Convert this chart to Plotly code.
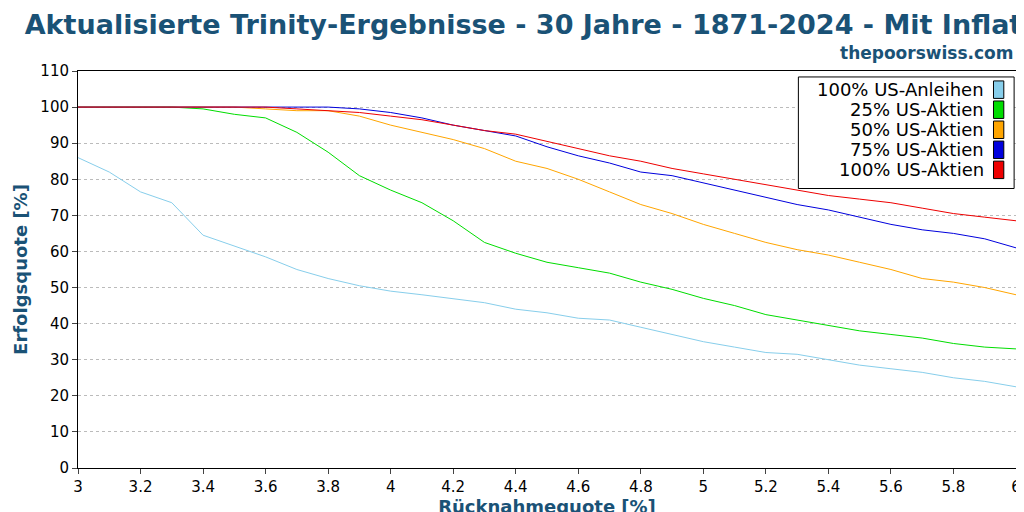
import plotly.graph_objects as go

rates = [round(3 + 0.1 * i, 1) for i in range(31)]
bonds = [86, 82, 76.5, 73.5, 64.5, 61.5, 58.5, 55, 52.5, 50.5, 49, 48, 47, 45.8, 44, 43, 41.5, 41, 39, 37,
         35, 33.5, 32, 31.5, 30, 28.5, 27.5, 26.5, 25, 24, 22.5]
stocks25 = [100, 100, 100, 100, 99.5, 98, 97, 93, 87.5, 81, 77, 73.5, 68.5, 62.5, 59.5, 57, 55.5, 54, 51.5, 49.5,
            47, 45, 42.5, 41, 39.5, 38, 37, 36, 34.5, 33.5, 33]
stocks50 = [100, 100, 100, 100, 100, 100, 99.5, 99, 99, 97.5, 95, 93, 91, 88.5, 85, 83, 80, 76.5, 73, 70.5,
            67.5, 65, 62.5, 60.5, 59, 57, 55, 52.5, 51.5, 50, 48]
stocks75 = [100, 100, 100, 100, 100, 100, 100, 100, 100, 99.5, 98.5, 97, 95, 93.5, 92, 89, 86.5, 84.5, 82, 81,
            79, 77, 75, 73, 71.5, 69.5, 67.5, 66, 65, 63.5, 61]
stocks100 = [100, 100, 100, 100, 100, 100, 100, 99.5, 99, 98.5, 97.5, 96.5, 95, 93.5, 92.5, 90.5, 88.5, 86.5, 85, 83,
             81.5, 80, 78.5, 77, 75.5, 74.5, 73.5, 72, 70.5, 69.5, 68.5]
names = ["100% US-Anleihen", "25% US-Aktien", "50% US-Aktien", "75% US-Aktien", "100% US-Aktien"]
colors = ["skyblue", "#00dd00", "orange", "#0000dd", "#ee0000"]

fig = go.Figure()
for name, ys, c in zip(names, [bonds, stocks25, stocks50, stocks75, stocks100], colors):
    fig.add_trace(go.Scatter(x=rates, y=ys, mode="lines", name=name, line=dict(color=c, width=1), showlegend=False))

# custom legend with color boxes on the right
lx0, lx1, ly0, ly1 = 0.768, 0.998, 0.704, 0.985
fig.add_shape(type="rect", xref="paper", yref="paper", x0=lx0, x1=lx1, y0=ly0, y1=ly1,
              line=dict(color="black", width=1), fillcolor="white", layer="above")
for i, (name, c) in enumerate(zip(names, colors)):
    yc = 0.953 - i * 0.0505
    fig.add_annotation(xref="paper", yref="paper", x=0.968, y=yc, text=name, showarrow=False,
                       xanchor="right", yanchor="middle", font=dict(size=18, color="black"))
    fig.add_shape(type="rect", xref="paper", yref="paper", x0=0.976, x1=0.987, y0=yc - 0.022, y1=yc + 0.022,
                  line=dict(color="black", width=1), fillcolor=c, layer="above")

fig.add_annotation(xref="paper", yref="paper", x=1.0, y=1.0, yshift=18, text="<b>thepoorswiss.com</b>",
                   showarrow=False, xanchor="right", yanchor="middle", font=dict(size=17, color="#1a5276"))

fig.update_layout(
    width=1024, height=512,
    title=dict(text="<b>Aktualisierte Trinity-Ergebnisse - 30 Jahre - 1871-2024 - Mit Inflation</b>",
               x=0.5, xanchor="center", xref="paper", y=0.968, yanchor="middle",
               font=dict(size=27, color="#1a5276")),
    margin=dict(l=70, r=16, t=63, b=52, autoexpand=False),
    plot_bgcolor="white", paper_bgcolor="white",
    font=dict(family="DejaVu Sans", size=15, color="black"),
    xaxis=dict(range=[3, 6], dtick=0.2, showgrid=False, showline=True, linecolor="black", mirror=True,
               ticks="outside", ticklen=5, zeroline=False, automargin=False,
               title=dict(text="<b>Rücknahmequote [%]</b>", font=dict(size=18, color="#1a5276"), standoff=4)),
    yaxis=dict(range=[0, 110], dtick=10, showgrid=True, gridcolor="#bbbbbb", griddash="dot",
               showline=True, linecolor="black", mirror=True, ticks="outside", ticklen=5, zeroline=False,
               automargin=False,
               title=dict(text="<b>Erfolgsquote [%]</b>", font=dict(size=18, color="#1a5276"), standoff=8)),
)
fig.write_html("out.html")
